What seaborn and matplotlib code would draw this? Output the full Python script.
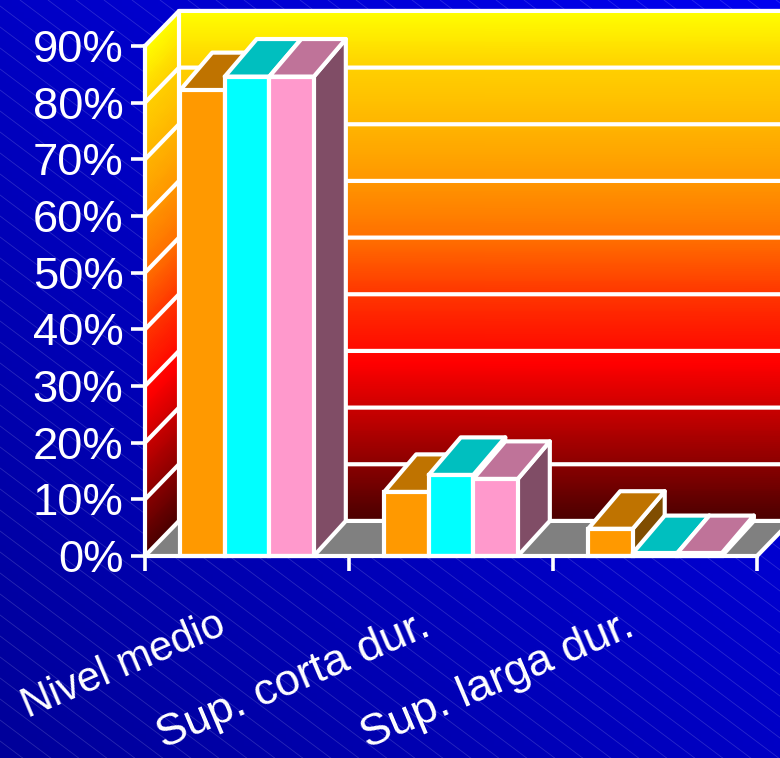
import numpy as np
import pandas as pd
import seaborn as sns
from matplotlib import pyplot as plt
from matplotlib.colors import LinearSegmentedColormap
from matplotlib.patches import Polygon
from matplotlib.transforms import ScaledTranslation

categories = ['Nivel medio', 'Sup. corta dur.', 'Sup. larga dur.']
serie_a = [82.2, 11.3, 4.8]
serie_b = [84.6, 14.3, 0.5]
serie_c = [84.6, 13.6, 0.5]
y_ticks = [0, 10, 20, 30, 40, 50, 60, 70, 80, 90]
y_labels = ['0%', '10%', '20%', '30%', '40%', '50%', '60%', '70%', '80%', '90%']

front_colors = ['#FF9900', '#00FFFF', '#FF99CC']
top_colors = ['#BF7300', '#00BFBF', '#BF7399']
side_colors = ['#804D00', '#008080', '#804D66']

W, H = 780, 758
DEPTH_X = 34 / 204      # 3d offset in data units
DEPTH_Y = 35 / 56.55 * 10
BAR_DX = 32 / 204
BAR_DY = 37.5 / 56.55 * 10
LW = 3.0
AX_POS = [145 / W, 1 - 556 / H, 612 / W, 510 / H]

sns.set_theme(style='white')
plt.rcParams['font.family'] = ['Liberation Sans', 'DejaVu Sans']

fig = plt.figure(figsize=(W / 100, H / 100), dpi=100)

# background: diagonal gradient with the thin hatch lines
bg = fig.add_axes([0, 0, 1, 1], zorder=0)
gx, gy = np.meshgrid(np.linspace(0, 1, 128), np.linspace(0, 1, 128))
blue = 0.60 + 0.34 * (gx + (1 - gy)) / 2
bg.imshow(np.dstack([0 * blue, 0 * blue, blue]), extent=(0, W, H, 0), aspect='auto')
for start in np.arange(-1100, 800, 28):
    bg.plot([start, start + 1120], [0, 840], color='white', lw=0.6, alpha=0.16)
bg.set_xlim(0, W)
bg.set_ylim(H, 0)
bg.axis('off')

# walls, floor and grid sit in their own axes under the bars
wall = fig.add_axes(AX_POS, zorder=1)
wall.axis('off')
wall_cmap = LinearSegmentedColormap.from_list(
    'wall', [(0, '#4A0000'), (0.309, '#FF0000'), (0.45, '#FF3800'), (0.556, '#FF7000'),
             (0.672, '#FF9800'), (0.778, '#FFB500'), (0.889, '#FFD000'), (1, '#FFFF00')])
x0, x1, x2 = -0.5, -0.5 + DEPTH_X, 2.5 + DEPTH_X
v = np.linspace(0, 90, 240)
colors = np.column_stack([v, v])
wall.pcolormesh(np.tile([x1, x2], (len(v), 1)), np.column_stack([v, v]) + DEPTH_Y, colors, cmap=wall_cmap,
                shading='gouraud', clip_on=False)
wall.pcolormesh(np.tile([x0, x1], (len(v), 1)), np.column_stack([v, v + DEPTH_Y]), colors, cmap=wall_cmap,
                shading='gouraud', clip_on=False)
wall.add_patch(Polygon([(x0, 0), (2.5, 0), (x2, DEPTH_Y), (x1, DEPTH_Y)], closed=True, facecolor='#808080',
                       edgecolor='none', clip_on=False))
for t in y_ticks:
    wall.plot([x0, x1, x2], [t, t + DEPTH_Y, t + DEPTH_Y], color='white', lw=LW, clip_on=False,
              solid_capstyle='round')
wall.plot([x1, x1], [DEPTH_Y, 90 + DEPTH_Y], color='white', lw=LW, clip_on=False)
wall.plot([2.5, x2], [0, DEPTH_Y], color='white', lw=LW, clip_on=False)
wall.set_xlim(-0.5, 2.5)
wall.set_ylim(0, 90)

ax = fig.add_axes(AX_POS, zorder=2)
ax.patch.set_alpha(0)

df = pd.DataFrame({
    'nivel': categories * 3,
    'serie': ['A'] * 3 + ['B'] * 3 + ['C'] * 3,
    'valor': serie_a + serie_b + serie_c,
})
sns.barplot(data=df, x='nivel', y='valor', hue='serie', palette=front_colors, width=0.655,
            gap=0, saturation=1, edgecolor='white', linewidth=LW, legend=False, ax=ax)

# 3d faces taken from the seaborn bars
bars = sorted([p for p in ax.patches if p.get_height() > 0], key=lambda p: p.get_x())
z = 4
for i, bar in enumerate(bars):
    c = i % 3
    left, right, top = bar.get_x(), bar.get_x() + bar.get_width(), bar.get_height()
    ax.add_patch(Polygon([(right, 0), (right + BAR_DX, DEPTH_Y), (right + BAR_DX, top + BAR_DY), (right, top)],
                         facecolor=side_colors[c], edgecolor='white', lw=LW, joinstyle='round',
                         zorder=z, clip_on=False))
    ax.add_patch(Polygon([(left, top), (left + BAR_DX, top + BAR_DY), (right + BAR_DX, top + BAR_DY), (right, top)],
                         facecolor=top_colors[c], edgecolor='white', lw=LW, joinstyle='round',
                         zorder=z + 0.1, clip_on=False))
    bar.set_zorder(z + 0.2)
    bar.set_clip_on(False)
    z += 1

ax.set_xlim(-0.5, 2.5)
ax.set_ylim(0, 90)
for side in ['top', 'right']:
    ax.spines[side].set_visible(False)
for side in ['left', 'bottom']:
    ax.spines[side].set_color('white')
    ax.spines[side].set_linewidth(LW)
    ax.spines[side].set_zorder(30)

ax.set_xlabel('')
ax.set_ylabel('')
ax.set_yticks(y_ticks)
ax.set_yticklabels(y_labels, fontsize=32.7, color='white')
ax.tick_params(axis='y', left=True, length=10, width=2.6, color='white', pad=5.5)
ax.set_xticks([0, 1, 2])
ax.set_xticklabels(categories, fontsize=32.4, color='white', rotation=23, ha='right', rotation_mode='anchor')
ax.tick_params(axis='x', bottom=False, length=0, pad=35)
ax.set_xticks([-0.5, 0.5, 1.5, 2.5], minor=True)
ax.tick_params(axis='x', which='minor', bottom=True, length=10.5, width=2.6, color='white')

# labels end left of the group centre, first one is set tighter in the original
shift = ScaledTranslation(-31 / 100, 0, fig.dpi_scale_trans)
for label in ax.get_xticklabels():
    label.set_transform(label.get_transform() + shift)
ax.get_xticklabels()[0].set_fontsize(30)

fig.savefig('out.png', dpi=100)
